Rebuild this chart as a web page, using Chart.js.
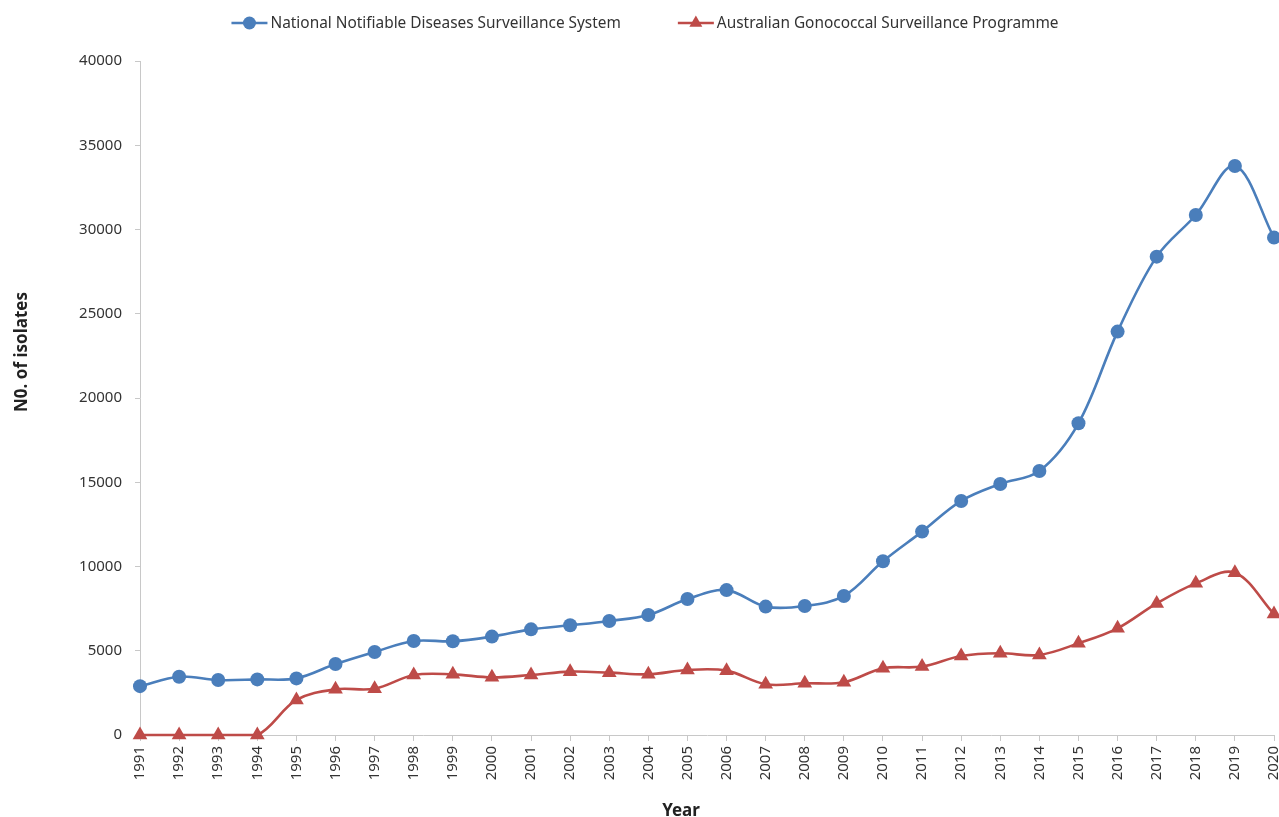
<!DOCTYPE html>
<html>
<head>
<meta charset="utf-8">
<script src="https://cdn.jsdelivr.net/npm/chart.js@4.4.1/dist/chart.umd.min.js"></script>
<style>
  html, body { margin: 0; padding: 0; background: #fff; }
  #wrap { width: 1279px; height: 817px; }
</style>
</head>
<body>
<div id="wrap"><canvas id="isolatesChart" width="1279" height="817"></canvas></div>
<script>
const years = ['1991', '1992', '1993', '1994', '1995', '1996', '1997', '1998', '1999', '2000',
    '2001', '2002', '2003', '2004', '2005', '2006', '2007', '2008', '2009', '2010',
    '2011', '2012', '2013', '2014', '2015', '2016', '2017', '2018', '2019', '2020'];

const nndss = [2900, 3460, 3260, 3300, 3360, 4210, 4930, 5580, 5560, 5840,
    6270, 6510, 6770, 7120, 8070, 8600, 7620, 7660, 8250, 10310,
    12070, 13890, 14900, 15670, 18500, 23940, 28390, 30860, 33770, 29520];

const agsp = [0, 0, 0, 0, 2080, 2710, 2750, 3560, 3600, 3420,
    3560, 3760, 3700, 3600, 3860, 3820, 3010, 3070, 3130, 3960,
    4060, 4690, 4850, 4750, 5440, 6330, 7810, 9000, 9630, 7180];

const seriesNames = ['National Notifiable Diseases Surveillance System', 'Australian Gonococcal Surveillance Programme'];
const yTicks = [0, 5000, 10000, 15000, 20000, 25000, 30000, 35000, 40000];
const xTitle = 'Year';
const yTitle = 'N0. of isolates';

const BLUE = '#4a7ebb';
const RED = '#be4b48';
const FONT = "'Noto Sans', 'Open Sans', sans-serif";

// legend drawn like an Excel line-with-marker legend, plus the axis titles
const lineLegend = {
    id: 'lineLegend',
    afterDraw(chart) {
        const ctx = chart.ctx;
        const y = 23;
        const lineW = 36;
        const gap = 57;
        ctx.save();
        ctx.font = '15.4px ' + FONT;
        const widths = chart.data.datasets.map(ds => lineW + 3 + ctx.measureText(ds.label).width);
        const total = widths.reduce((a, b) => a + b, 0) + gap * (widths.length - 1);
        let x = 645 - total / 2;
        chart.data.datasets.forEach((ds, i) => {
            ctx.strokeStyle = ds.borderColor;
            ctx.lineWidth = 2.5;
            ctx.beginPath();
            ctx.moveTo(x, y);
            ctx.lineTo(x + lineW, y);
            ctx.stroke();
            ctx.fillStyle = ds.pointBackgroundColor;
            Chart.helpers.drawPoint(ctx, {
                pointStyle: ds.pointStyle,
                radius: ds.pointStyle === 'triangle' ? 7.5 : 6.5,
                borderWidth: 0
            }, x + lineW / 2, y);
            ctx.fillStyle = '#333';
            ctx.textBaseline = 'middle';
            ctx.textAlign = 'left';
            ctx.fillText(ds.label, x + lineW + 3, y + 1);
            x += widths[i] + gap;
        });

        ctx.fillStyle = '#222';
        ctx.font = 'bold 17px ' + FONT;
        ctx.textAlign = 'center';
        ctx.textBaseline = 'middle';
        ctx.fillText(xTitle, 681, 811);
        ctx.translate(22, 352);
        ctx.rotate(-Math.PI / 2);
        ctx.fillText(yTitle, 0, 0);
        ctx.restore();
    }
};

const ctx = document.getElementById('isolatesChart').getContext('2d');
const isolatesChart = new Chart(ctx, {
    type: 'line',
    data: {
        labels: years,
        datasets: [{
            label: seriesNames[0],
            data: nndss,
            borderColor: BLUE,
            backgroundColor: BLUE,
            pointBackgroundColor: BLUE,
            pointBorderColor: BLUE,
            pointStyle: 'circle',
            pointRadius: 7,
            pointBorderWidth: 0,
            borderWidth: 2.6,
            tension: 0.35,
            clip: false
        }, {
            label: seriesNames[1],
            data: agsp,
            borderColor: RED,
            backgroundColor: RED,
            pointBackgroundColor: RED,
            pointBorderColor: RED,
            pointStyle: 'triangle',
            pointRadius: 8.5,
            pointBorderWidth: 0,
            borderWidth: 2.6,
            tension: 0.35,
            clip: false
        }]
    },
    options: {
        responsive: false,
        animation: false,
        layout: {
            autoPadding: false,
            padding: { top: 61, right: 5, bottom: 0, left: 0 }
        },
        plugins: {
            legend: { display: false },
            tooltip: { enabled: false }
        },
        scales: {
            x: {
                offset: false,
                afterFit: scale => {
                    scale.height = 82;
                    scale.paddingLeft = 0;
                    scale.paddingRight = 0;
                },
                grid: {
                    drawOnChartArea: false,
                    drawTicks: true,
                    tickLength: 6,
                    color: '#c8c8c8'
                },
                border: { color: '#c8c8c8', width: 1 },
                ticks: {
                    autoSkip: false,
                    minRotation: 90,
                    maxRotation: 90,
                    padding: 5,
                    color: '#333',
                    font: { family: FONT, size: 15 }
                }
            },
            y: {
                min: 0,
                max: 40000,
                afterFit: scale => { scale.width = 140; },
                afterBuildTicks: scale => { scale.ticks = yTicks.map(v => ({ value: v })); },
                grid: {
                    drawOnChartArea: false,
                    drawTicks: true,
                    tickLength: 5,
                    color: '#c8c8c8'
                },
                border: { color: '#c8c8c8', width: 1 },
                ticks: {
                    padding: 13,
                    color: '#333',
                    font: { family: FONT, size: 15 },
                    callback: value => String(value)
                }
            }
        }
    },
    plugins: [lineLegend]
});
</script>
</body>
</html>
